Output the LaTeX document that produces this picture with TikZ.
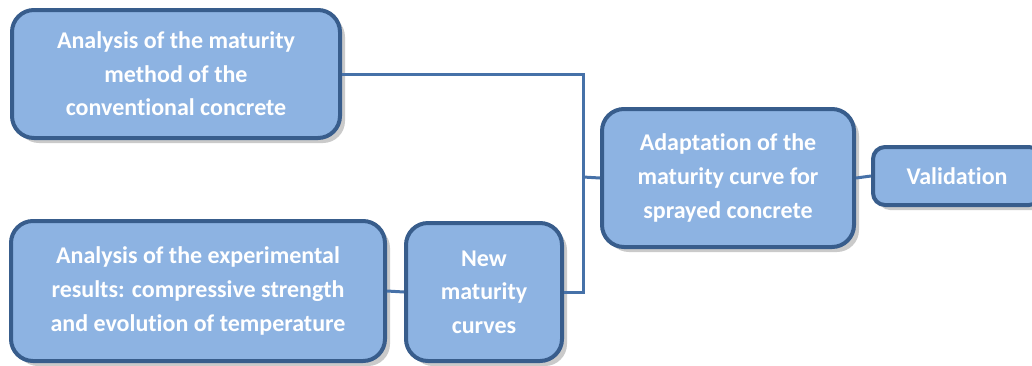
\documentclass[tikz,border=0pt]{standalone}
\usepackage{xcolor}
\usepackage{fontspec}
\setmainfont{Carlito}[Ligatures=NoCommon]
\usepackage{tikz}
\usetikzlibrary{positioning, shadows}
\definecolor{boxfill}{RGB}{141,179,226}
\definecolor{boxline}{RGB}{56,93,140}
\definecolor{linkblue}{RGB}{70,113,168}
\tikzset{
  stage/.style={rectangle, draw=boxline, fill=boxfill, line width=2pt,
    rounded corners=11pt, align=center, text=white,
    font=\fontsize{12}{16.8}\selectfont\bfseries,
    drop shadow={shadow xshift=2.5pt, shadow yshift=-2.5pt,
      opacity=0.35, fill=black!60}},
  smallstage/.style={stage, rounded corners=6pt},
  link/.style={line width=1.5pt, color=linkblue}
}

\begin{document}
\begin{tikzpicture}[x=0.5pt, y=-0.5pt]
  \useasboundingbox (0,0) rectangle (1032,365);

  % input analyses
  \node[stage, minimum width=164pt, minimum height=64pt] (maturity) at (176,74)
    {Analysis of the maturity\\method of the\\conventional concrete};
  \node[stage, minimum width=187pt, minimum height=70pt] (results) at (198,291)
    {Analysis of the experimental\\results: compressive strength\\and evolution of temperature};
  \node[stage, minimum width=78pt, minimum height=69pt] (newcurves) at (484,292)
    {New\\maturity\\curves};

  % adaptation and validation
  \node[stage, minimum width=126pt, minimum height=69pt] (adapt) at (728,178)
    {Adaptation of the\\maturity curve for\\sprayed concrete};
  \node[smallstage, minimum width=84pt, minimum height=29pt] (valid) at (957,176)
    {Validation};

  % connectors
  \coordinate (bus) at (583,177);
  \draw[link] (maturity.east) -| (bus) |- (newcurves.east);
  \draw[link] (bus) -- (adapt.west);
  \draw[link] (results.east) -- (newcurves.west);
  \draw[link] (adapt.east) -- (valid.west);
\end{tikzpicture}
\end{document}
